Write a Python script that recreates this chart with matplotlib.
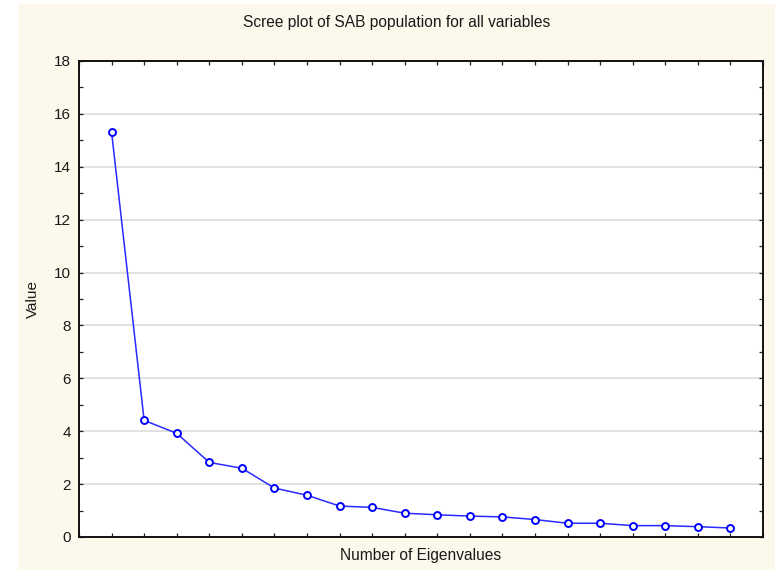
import matplotlib
matplotlib.use("Agg")
import matplotlib.pyplot as plt
from matplotlib.patches import Rectangle
from matplotlib.ticker import MultipleLocator

plt.rcParams['font.family'] = ['Liberation Sans', 'DejaVu Sans']

# eigenvalues, in order
eig_index = list(range(1, 21))
eig_values = [15.31, 4.41, 3.92, 2.82, 2.60, 1.85, 1.58, 1.17, 1.12, 0.90,
              0.84, 0.79, 0.76, 0.66, 0.52, 0.52, 0.43, 0.43, 0.39, 0.34]

W, H = 775, 570
fig = plt.figure(figsize=(W / 100, H / 100), dpi=100, facecolor='white')

# cream panel behind everything
fig.patches.append(Rectangle((18 / W, 0), 1 - 18 / W, 1 - 4 / H,
                             transform=fig.transFigure, facecolor='#fdf8ec',
                             edgecolor='none', zorder=-10))

ax = fig.add_axes([79 / W, 33 / H, (763 - 79) / W, (537 - 61) / H])
ax.set_facecolor('white')

ax.plot(eig_index, eig_values, color='#2a2aff', lw=1.1, marker='o', ms=5,
        mfc='white', mec='#0000ff', mew=1.4, zorder=3)

ax.set_xlim(0, 21)
ax.set_ylim(0, 18)
ax.xaxis.set_major_locator(MultipleLocator(1))
ax.yaxis.set_major_locator(MultipleLocator(2))
ax.yaxis.set_minor_locator(MultipleLocator(1))
ax.tick_params(axis='both', which='both', direction='in', top=True, right=True,
               length=3, width=0.9, color='#222222', labelsize=11,
               labelcolor='#1a1a1a')
ax.tick_params(axis='y', which='major', pad=6)
ax.tick_params(axis='x', which='major', labelbottom=False)
ax.grid(axis='y', which='major', color='#dcdcdc', lw=1.2)
ax.set_axisbelow(True)
for s in ax.spines.values():
    s.set_linewidth(1.4)
    s.set_color('#111111')

ax.set_ylabel('Value', fontsize=11, color='#1a1a1a', labelpad=10)
ax.set_xlabel('Number of Eigenvalues', fontsize=11.2, color='#1a1a1a', labelpad=8)
fig.text(396.5 / W, 1 - 22 / H, 'Scree plot of SAB population for all variables',
         ha='center', va='center', fontsize=11.2, color='#1a1a1a')

fig.savefig('out.png', dpi=100)
